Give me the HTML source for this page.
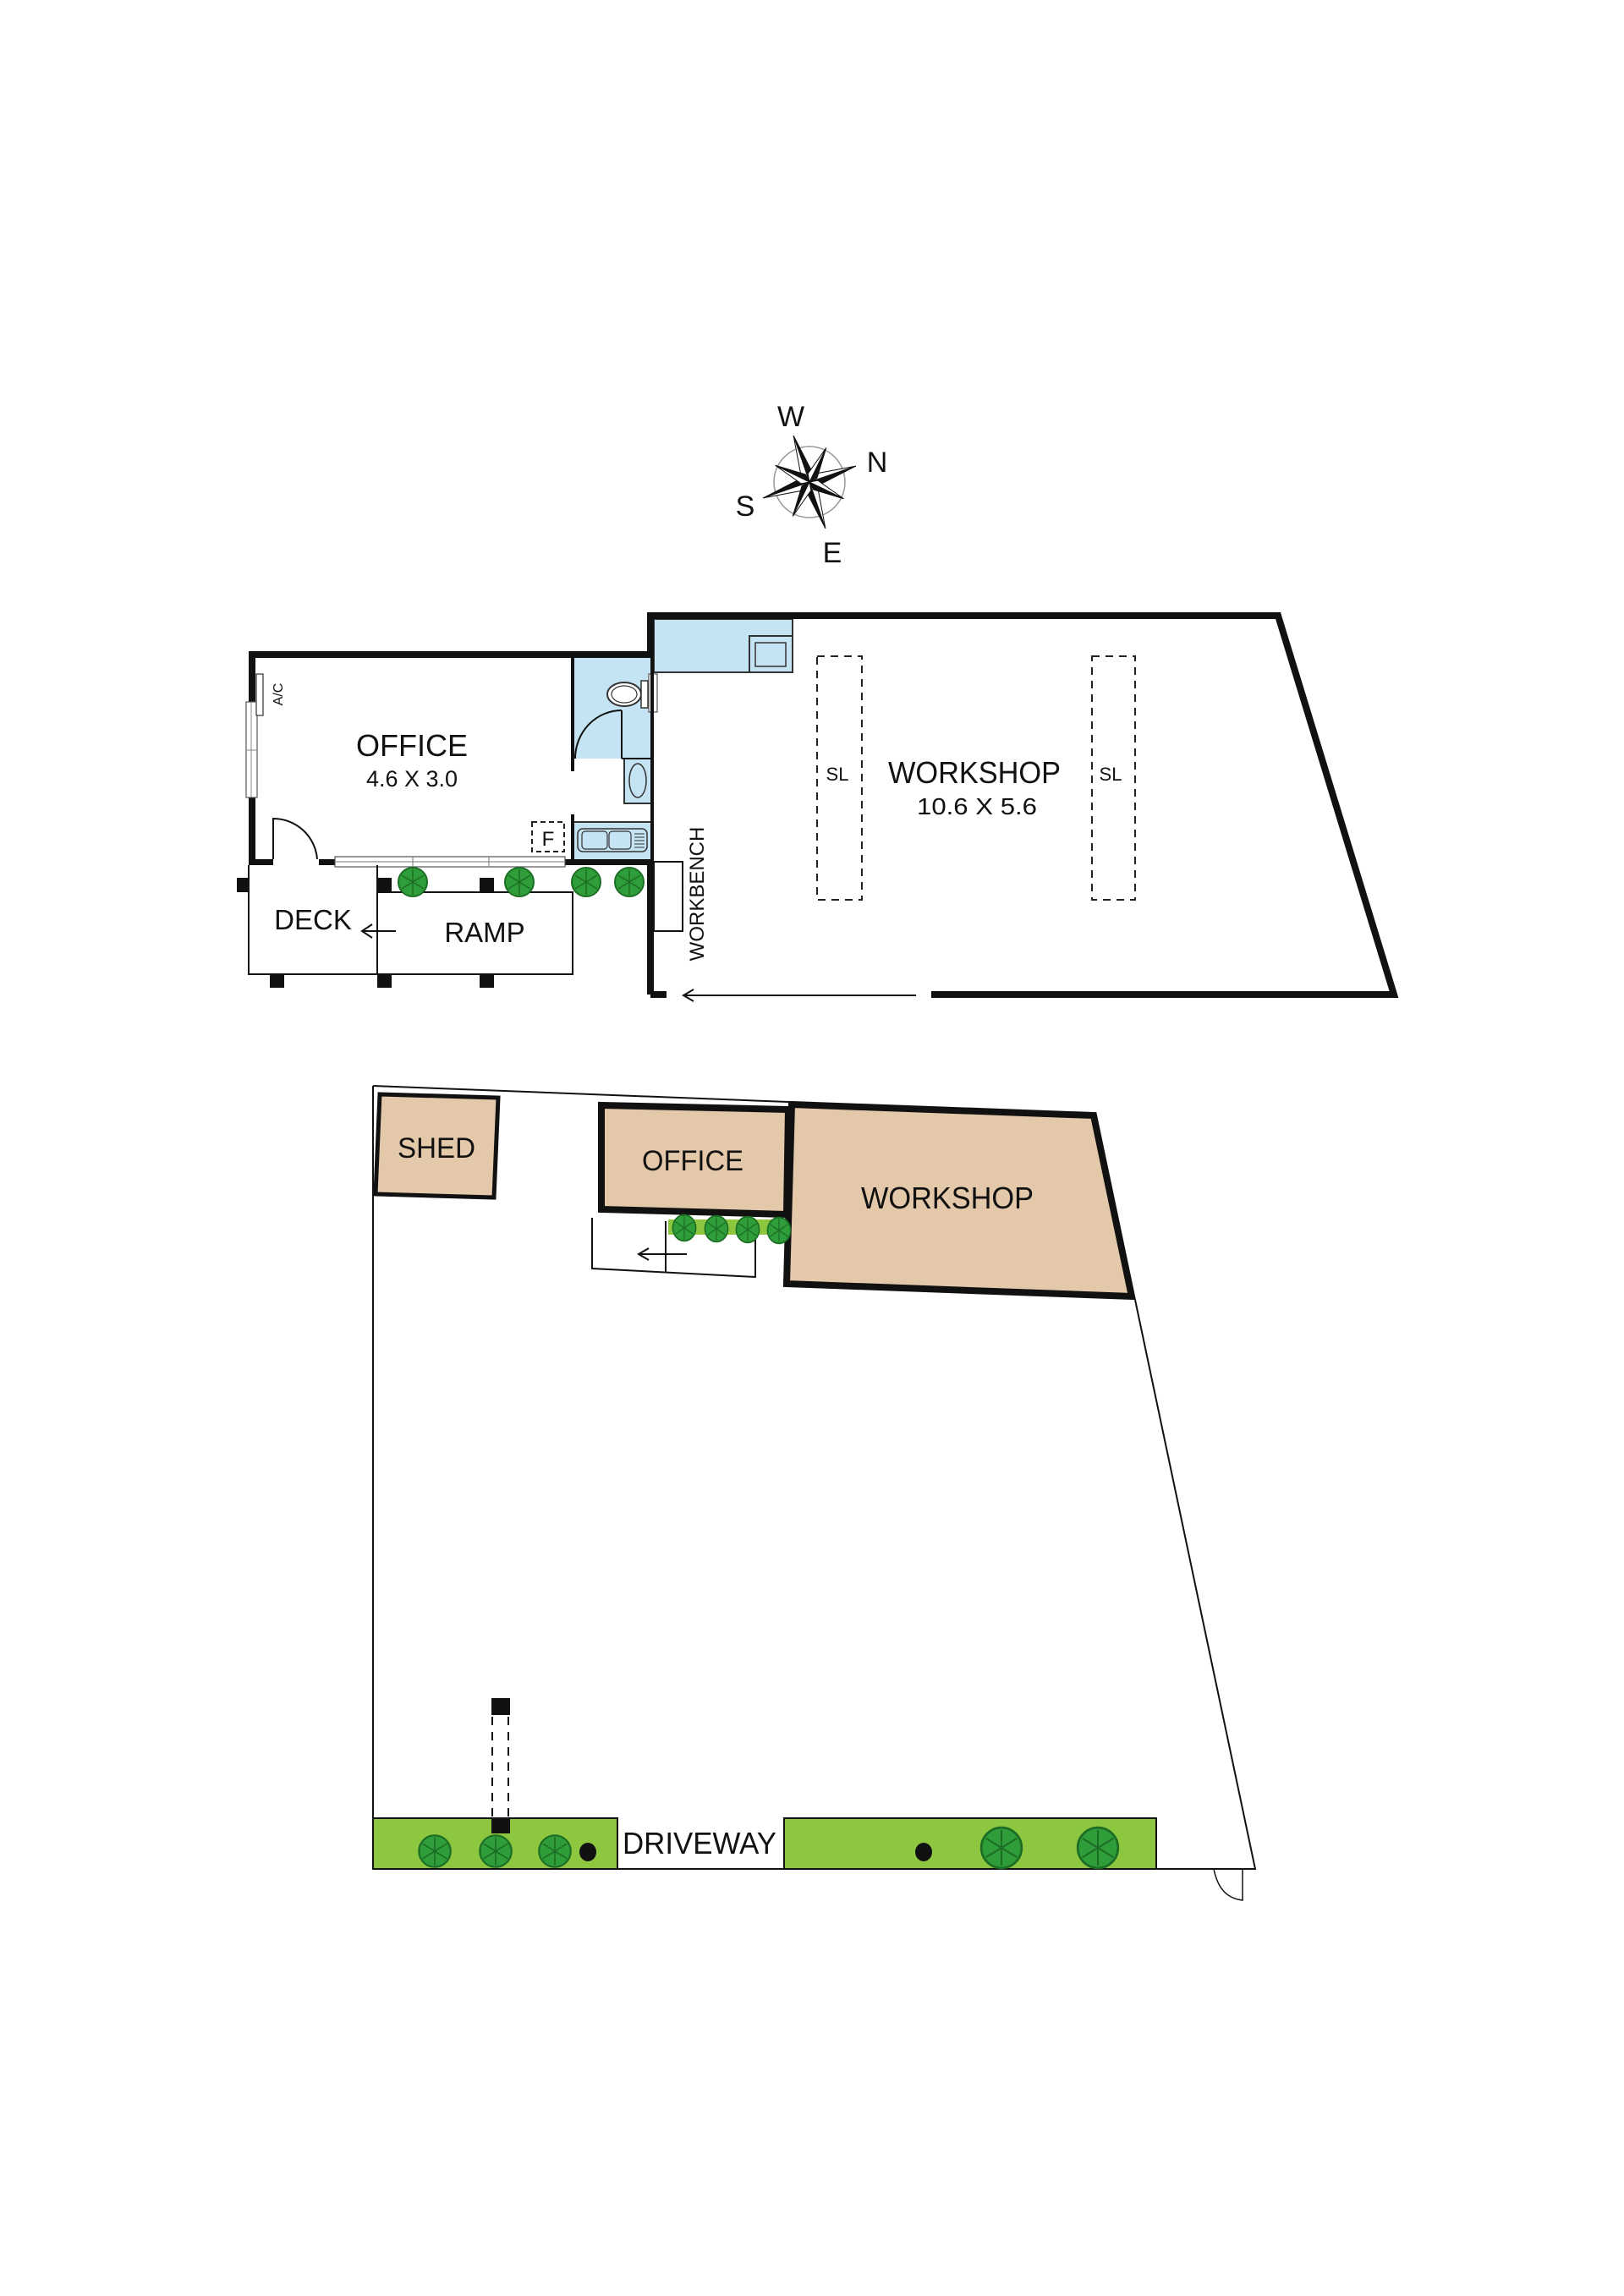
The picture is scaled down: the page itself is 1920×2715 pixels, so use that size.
<!DOCTYPE html>
<html><head><meta charset="utf-8"><style>
html,body{margin:0;padding:0;background:#fff;}
svg{display:block;}
text{font-family:"Liberation Sans",sans-serif;fill:#111;}
</style></head><body>
<svg width="1920" height="2715" viewBox="0 0 1920 2715" xmlns="http://www.w3.org/2000/svg">
<defs>
<g id="tr"><circle r="17" fill="#2f9e3a" stroke="#1c6e25" stroke-width="2"/><path d="M0 0L0 -15M0 0L13 -8M0 0L13 8M0 0L0 15M0 0L-13 8M0 0L-13 -8" stroke="#1c6e25" stroke-width="1.5"/></g>
</defs>
<rect width="1920" height="2715" fill="#fff"/>

<!-- compass -->
<circle cx="957" cy="570" r="42" fill="none" stroke="#999" stroke-width="1.5"/>
<g transform="translate(957,570)" stroke="#111" stroke-width="1">
<g transform="rotate(-19)"><polygon points="0,-58 7,-10 0,0" fill="#111"/><polygon points="0,-58 -7,-10 0,0" fill="#fff"/></g>
<g transform="rotate(71)"><polygon points="0,-58 7,-10 0,0" fill="#111"/><polygon points="0,-58 -7,-10 0,0" fill="#fff"/></g>
<g transform="rotate(161)"><polygon points="0,-58 7,-10 0,0" fill="#111"/><polygon points="0,-58 -7,-10 0,0" fill="#fff"/></g>
<g transform="rotate(251)"><polygon points="0,-58 7,-10 0,0" fill="#111"/><polygon points="0,-58 -7,-10 0,0" fill="#fff"/></g>
<g transform="rotate(26)"><polygon points="0,-45 6,-8 0,0" fill="#111"/><polygon points="0,-45 -6,-8 0,0" fill="#fff"/></g>
<g transform="rotate(116)"><polygon points="0,-45 6,-8 0,0" fill="#111"/><polygon points="0,-45 -6,-8 0,0" fill="#fff"/></g>
<g transform="rotate(206)"><polygon points="0,-45 6,-8 0,0" fill="#111"/><polygon points="0,-45 -6,-8 0,0" fill="#fff"/></g>
<g transform="rotate(296)"><polygon points="0,-45 6,-8 0,0" fill="#111"/><polygon points="0,-45 -6,-8 0,0" fill="#fff"/></g>
</g>
<text x="935" y="504" font-size="34" text-anchor="middle">W</text>
<text x="1037" y="558" font-size="34" text-anchor="middle">N</text>
<text x="881" y="610" font-size="34" text-anchor="middle">S</text>
<text x="984" y="665" font-size="34" text-anchor="middle">E</text>

<!-- ===== FLOOR PLAN ===== -->
<rect x="678" y="778" width="92" height="119" fill="#c4e4f3"/>
<rect x="738" y="897" width="32" height="53" fill="#c4e4f3" stroke="#333" stroke-width="2"/>
<ellipse cx="754" cy="923" rx="10" ry="20" fill="none" stroke="#333" stroke-width="1.5"/>
<rect x="678" y="972" width="92" height="46" fill="#c4e4f3" stroke="#333" stroke-width="2"/>
<rect x="683" y="980" width="82" height="27" rx="6" fill="none" stroke="#333" stroke-width="1.5"/>
<rect x="688" y="983" width="30" height="21" rx="4" fill="none" stroke="#333" stroke-width="1.2"/>
<rect x="720" y="983" width="26" height="21" rx="4" fill="none" stroke="#333" stroke-width="1.2"/>
<path d="M750 986H762M750 990H762M750 994H762M750 998H762M750 1002H762" stroke="#333" stroke-width="1"/>
<rect x="773" y="732" width="164" height="63" fill="#c4e4f3" stroke="#333" stroke-width="2"/>
<rect x="886" y="752" width="51" height="43" fill="none" stroke="#333" stroke-width="2"/>
<rect x="893" y="760" width="36" height="28" fill="none" stroke="#333" stroke-width="1.5"/>

<rect x="294" y="770" width="479" height="8" fill="#111"/>
<rect x="294" y="770" width="8" height="253" fill="#111"/>
<rect x="294" y="1016" width="29" height="7" fill="#111"/>
<rect x="377" y="1016" width="19" height="7" fill="#111"/>
<rect x="668" y="1016" width="105" height="7" fill="#111"/>
<rect x="396" y="1013" width="272" height="12" fill="#fff" stroke="#555" stroke-width="1.2"/>
<path d="M396 1019H668M488 1013V1025M578 1013V1025" stroke="#777" stroke-width="1"/>
<rect x="291" y="830" width="13" height="113" fill="#fff" stroke="#555" stroke-width="1.2"/>
<path d="M291 887H304M297 830V943" stroke="#888" stroke-width="1"/>
<rect x="303" y="797" width="8" height="49" fill="#fff" stroke="#333" stroke-width="1.2"/>
<text transform="translate(334,821) rotate(-90)" font-size="16" text-anchor="middle">A/C</text>
<path d="M323 1016V968A52 52 0 0 1 375 1016" fill="none" stroke="#111" stroke-width="2"/>
<rect x="675" y="778" width="4" height="134" fill="#111"/>
<rect x="675" y="963" width="4" height="57" fill="#111"/>
<path d="M735 897V840M735 897H770" stroke="#111" stroke-width="2"/>
<path d="M735 840A55 57 0 0 0 680 897" fill="none" stroke="#111" stroke-width="2"/>
<ellipse cx="738" cy="821" rx="20" ry="14" fill="#fff" stroke="#333" stroke-width="2"/>
<ellipse cx="738" cy="821" rx="15" ry="10" fill="none" stroke="#333" stroke-width="1.2"/>
<rect x="758" y="805" width="8" height="32" fill="#fff" stroke="#333" stroke-width="1.5"/>
<rect x="767" y="797" width="10" height="45" fill="#fff" stroke="#555" stroke-width="1.2"/>
<rect x="769" y="778" width="4" height="242" fill="#111"/>
<rect x="629" y="972" width="38" height="35" fill="none" stroke="#222" stroke-width="2" stroke-dasharray="6 4"/>
<text x="648" y="1000" font-size="24" text-anchor="middle">F</text>
<text x="487" y="894" font-size="36" text-anchor="middle">OFFICE</text>
<text x="487" y="930" font-size="27" text-anchor="middle">4.6 X 3.0</text>

<path d="M294 1023V1152H677V1055H446M446 1023V1152" fill="none" stroke="#111" stroke-width="2"/>
<rect x="280" y="1038" width="14" height="17" fill="#111"/>
<rect x="446" y="1038" width="17" height="17" fill="#111"/>
<rect x="567" y="1038" width="17" height="17" fill="#111"/>
<rect x="319" y="1152" width="17" height="16" fill="#111"/>
<rect x="446" y="1152" width="17" height="16" fill="#111"/>
<rect x="567" y="1152" width="17" height="16" fill="#111"/>
<use href="#tr" x="488" y="1043"/><use href="#tr" x="614" y="1043"/><use href="#tr" x="693" y="1043"/><use href="#tr" x="744" y="1043"/>
<text x="370" y="1099" font-size="33" text-anchor="middle">DECK</text>
<text x="573" y="1114" font-size="33" text-anchor="middle">RAMP</text>
<path d="M468 1101H428M440 1093L428 1101L440 1109" fill="none" stroke="#111" stroke-width="2"/>

<path d="M769 1020V1176M769 728H1511L1648 1176H1101M769 1176H788" fill="none" stroke="#111" stroke-width="8"/>
<rect x="765" y="724" width="8" height="54" fill="#111"/>
<rect x="773" y="1019" width="34" height="82" fill="#fff" stroke="#111" stroke-width="2"/>
<text transform="translate(832,1057) rotate(-90)" font-size="24" text-anchor="middle">WORKBENCH</text>
<path d="M1083 1177H808M820 1170L808 1177L820 1184" fill="none" stroke="#111" stroke-width="2"/>
<rect x="966" y="776" width="53" height="288" fill="none" stroke="#222" stroke-width="2" stroke-dasharray="9 7"/>
<rect x="1291" y="776" width="51" height="288" fill="none" stroke="#222" stroke-width="2" stroke-dasharray="9 7"/>
<text x="990" y="923" font-size="22" text-anchor="middle">SL</text>
<text x="1313" y="923" font-size="22" text-anchor="middle">SL</text>
<text x="1152" y="926" font-size="36" text-anchor="middle" textLength="204" lengthAdjust="spacingAndGlyphs">WORKSHOP</text>
<text x="1155" y="963" font-size="28" text-anchor="middle" textLength="142" lengthAdjust="spacingAndGlyphs">10.6 X 5.6</text>

<!-- ===== SITE PLAN ===== -->
<path d="M441 1284L932 1303M441 1284V2210H1484L1342 1537" fill="none" stroke="#111" stroke-width="2"/>
<path d="M1435 2210C1440 2235 1452 2245 1469 2247V2210" fill="none" stroke="#111" stroke-width="1.5"/>
<polygon points="449,1294 589,1298 584,1416 444,1412" fill="#e4c8aa" stroke="#111" stroke-width="5"/>
<polygon points="711,1307 932,1312 930,1436 711,1430" fill="#e4c8aa" stroke="#111" stroke-width="8"/>
<polygon points="936,1306 1293,1319 1338,1533 930,1518" fill="#e4c8aa" stroke="#111" stroke-width="8"/>
<path d="M700 1440V1500L893 1510V1444M787 1444V1505" fill="none" stroke="#111" stroke-width="2"/>
<rect x="790" y="1442" width="140" height="18" fill="#8dc63f"/>
<g transform="translate(809,1452) scale(0.8,0.9)"><use href="#tr"/></g>
<g transform="translate(847,1453) scale(0.8,0.9)"><use href="#tr"/></g>
<g transform="translate(884,1454) scale(0.8,0.9)"><use href="#tr"/></g>
<g transform="translate(921,1455) scale(0.8,0.9)"><use href="#tr"/></g>
<path d="M812 1483H755M767 1476L755 1483L767 1490" fill="none" stroke="#111" stroke-width="2"/>
<text x="516" y="1369" font-size="34" text-anchor="middle" textLength="92" lengthAdjust="spacingAndGlyphs">SHED</text>
<text x="819" y="1384" font-size="34" text-anchor="middle" textLength="120" lengthAdjust="spacingAndGlyphs">OFFICE</text>
<text x="1120" y="1429" font-size="36" text-anchor="middle" textLength="204" lengthAdjust="spacingAndGlyphs">WORKSHOP</text>

<rect x="441" y="2150" width="289" height="60" fill="#8dc63f" stroke="#111" stroke-width="2"/>
<rect x="927" y="2150" width="440" height="60" fill="#8dc63f" stroke="#111" stroke-width="2"/>
<rect x="581" y="2008" width="22" height="20" fill="#111"/>
<path d="M582 2030V2150M601 2030V2150" stroke="#111" stroke-width="2" stroke-dasharray="10 8"/>
<rect x="581" y="2150" width="22" height="18" fill="#111"/>
<g transform="translate(514,2189) scale(1.1,1.1)"><use href="#tr"/></g>
<g transform="translate(586,2189) scale(1.1,1.1)"><use href="#tr"/></g>
<g transform="translate(656,2189) scale(1.1,1.1)"><use href="#tr"/></g>
<ellipse cx="695" cy="2190" rx="10" ry="11" fill="#111"/>
<ellipse cx="1092" cy="2190" rx="10" ry="11" fill="#111"/>
<g transform="translate(1184,2185) scale(1.4,1.4)"><use href="#tr"/></g>
<g transform="translate(1298,2185) scale(1.4,1.4)"><use href="#tr"/></g>
<text x="827" y="2192" font-size="36" text-anchor="middle" textLength="182" lengthAdjust="spacingAndGlyphs">DRIVEWAY</text>
</svg>
</body></html>
